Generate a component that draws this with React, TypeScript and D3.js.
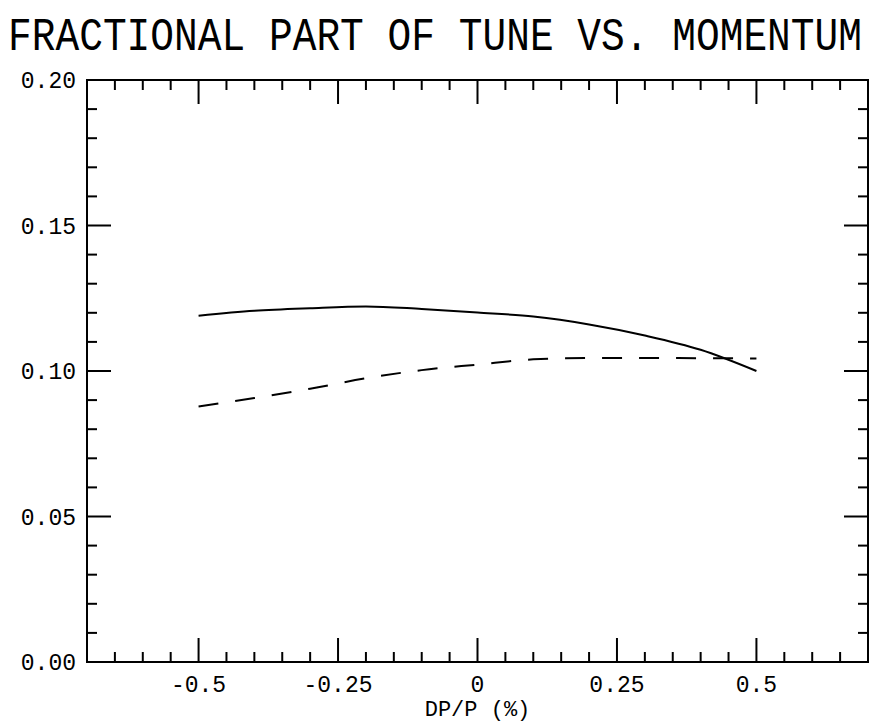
import React from "react";
import * as d3 from "d3";

const dpp = [-0.5, -0.4, -0.3, -0.2, -0.1, 0, 0.1, 0.2, 0.3, 0.4, 0.5];
const tuneSolid = [0.119, 0.1207, 0.1216, 0.1222, 0.1213, 0.1201, 0.1187, 0.116, 0.1122, 0.1073, 0.1];
const tuneDashed = [0.0878, 0.0907, 0.0939, 0.0975, 0.1003, 0.1022, 0.104, 0.1045, 0.1045, 0.1044, 0.1043];
const xMajor = [-0.5, -0.25, 0, 0.25, 0.5];
const xMajorLabels = ["-0.5", "-0.25", "0", "0.25", "0.5"];
const yMajor = [0, 0.05, 0.1, 0.15, 0.2];
const yMajorLabels = ["0.00", "0.05", "0.10", "0.15", "0.20"];

const W = 874;
const H = 724;
const L = 87, R = 868, T = 80, B = 662;
const FONT = "'Liberation Mono', 'DejaVu Sans Mono', monospace";

export default function App() {
  const x = d3.scaleLinear().domain([-0.7, 0.7]).range([L, R]);
  const y = d3.scaleLinear().domain([0, 0.2]).range([B, T]);
  const xMinor = d3.range(-0.65, 0.7, 0.05).map((v) => Math.round(v * 100) / 100).filter((v) => !xMajor.some((m) => Math.abs(m - v) < 1e-6));
  const yMinor = d3.range(0.01, 0.2, 0.01).map((v) => Math.round(v * 100) / 100).filter((v) => !yMajor.some((m) => Math.abs(m - v) < 1e-6));
  const line = d3.line<number>().x((_, i) => x(dpp[i])).y((d) => y(d)).curve(d3.curveMonotoneX);
  const MAJ = 24, MIN = 10;
  return (
    <svg width={W} height={H} style={{ position: "absolute", left: 0, top: 0, background: "#fff" }}>
      <rect width={W} height={H} fill="#fff" />
      <g transform="translate(8,50) scale(1,1.2)">
        <text x={0} y={0} fontFamily={FONT} fontSize={38} textLength={854} lengthAdjust="spacingAndGlyphs" fill="#000">
          FRACTIONAL PART OF TUNE VS. MOMENTUM
        </text>
      </g>
      <g stroke="#000" strokeWidth={2} fill="none">
        <rect x={L} y={T} width={R - L} height={B - T} />
        {xMajor.map((v) => (
          <g key={"xm" + v}>
            <line x1={x(v)} x2={x(v)} y1={B} y2={B - MAJ} />
            <line x1={x(v)} x2={x(v)} y1={T} y2={T + MAJ} />
          </g>
        ))}
        {xMinor.map((v) => (
          <g key={"xn" + v}>
            <line x1={x(v)} x2={x(v)} y1={B} y2={B - MIN} />
            <line x1={x(v)} x2={x(v)} y1={T} y2={T + MIN} />
          </g>
        ))}
        {yMajor.map((v) => (
          <g key={"ym" + v}>
            <line x1={L} x2={L + MAJ} y1={y(v)} y2={y(v)} />
            <line x1={R} x2={R - MAJ} y1={y(v)} y2={y(v)} />
          </g>
        ))}
        {yMinor.map((v) => (
          <g key={"yn" + v}>
            <line x1={L} x2={L + MIN} y1={y(v)} y2={y(v)} />
            <line x1={R} x2={R - MIN} y1={y(v)} y2={y(v)} />
          </g>
        ))}
        <path d={line(tuneSolid) || ""} />
        <path d={line(tuneDashed) || ""} strokeDasharray="20,17" />
      </g>
      <g fontFamily={FONT} fontSize={23} fill="#000">
        {yMajor.map((v, i) => (
          <text key={"yl" + v} x={76} y={y(v) + 8} textAnchor="end">{yMajorLabels[i]}</text>
        ))}
        {xMajor.map((v, i) => (
          <text key={"xl" + v} x={x(v)} y={692} textAnchor="middle">{xMajorLabels[i]}</text>
        ))}
        <text x={x(0)} y={716} textAnchor="middle" fontSize={22}>DP/P (%)</text>
      </g>
    </svg>
  );
}
